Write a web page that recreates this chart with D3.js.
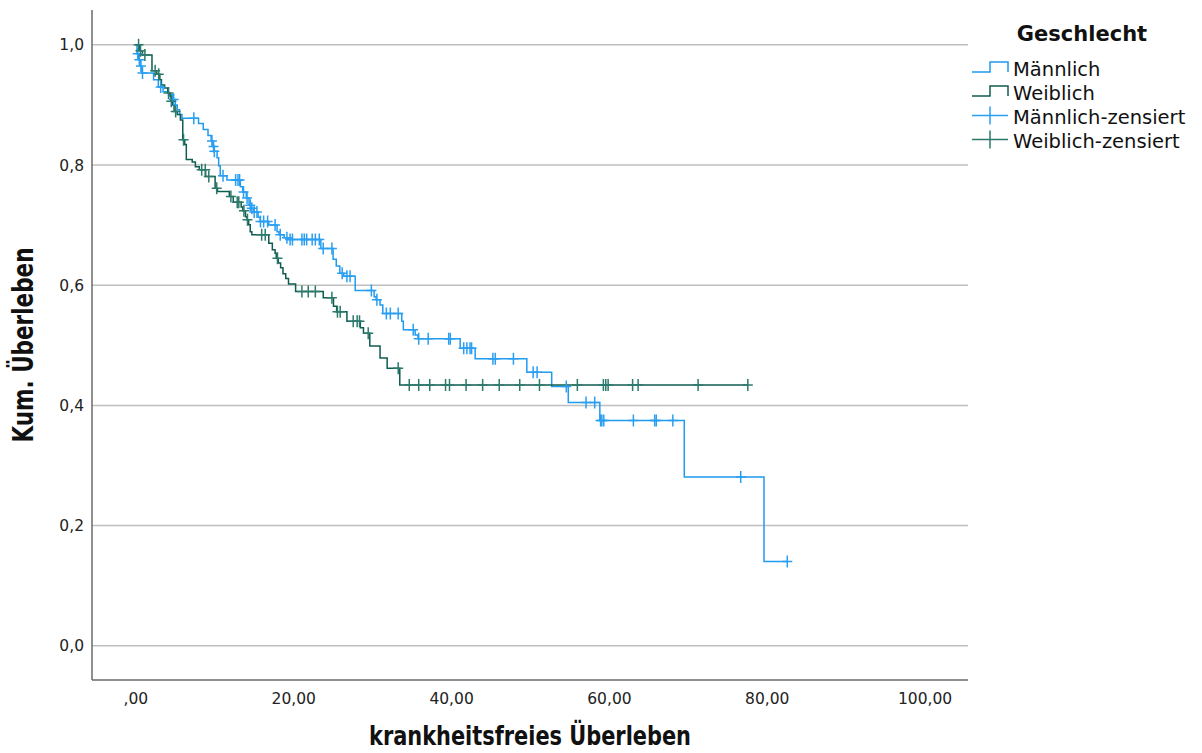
<!DOCTYPE html>
<html>
<head>
<meta charset="utf-8">
<script src="https://cdn.jsdelivr.net/npm/d3@7/dist/d3.min.js"></script>
<style>
  html, body { margin: 0; padding: 0; background: #fff; }
  svg { display: block; }
</style>
</head>
<body>
<svg id="chart" width="1202" height="753"></svg>
<script>
// Kaplan-Meier: krankheitsfreies Überleben nach Geschlecht
const groups = ["Männlich", "Weiblich"];

// Männlich: Ereigniszeitpunkte und kumulierte Überlebensrate nach jedem Ereignis
const maleEventTimes = [0.2, 0.4, 0.6, 0.8, 2.3, 2.9, 3.5, 4.2, 4.7, 5.06, 5.3, 5.6, 5.9, 8.0, 8.6, 9.2, 9.6, 9.8, 9.95,
  10.35, 10.55, 10.75, 11.6, 13.3, 13.6, 14.05, 14.4, 14.65, 14.95, 15.55, 15.8, 16.9, 17.95, 18.2, 18.85, 19.35,
  23.5, 25.05, 25.45, 25.9, 26.4, 27.85, 30.25, 30.5, 31.0, 31.35, 33.75, 33.95, 35.45, 35.8, 41.15, 43.05,
  49.6, 52.75, 54.85, 58.85, 69.55, 79.65];
const maleSurvival = [0.985, 0.975, 0.965, 0.953, 0.942, 0.930, 0.922, 0.917, 0.909, 0.900, 0.892, 0.884, 0.878, 0.869, 0.859, 0.849, 0.840, 0.831, 0.823,
  0.812, 0.799, 0.782, 0.775, 0.764, 0.755, 0.745, 0.733, 0.728, 0.722, 0.713, 0.706, 0.700, 0.689, 0.684, 0.679, 0.676,
  0.661, 0.643, 0.632, 0.620, 0.615, 0.591, 0.581, 0.576, 0.567, 0.553, 0.540, 0.526, 0.517, 0.511, 0.495, 0.4775,
  0.455, 0.4315, 0.405, 0.375, 0.281, 0.140];
const maleCensored = [0.3, 0.5, 0.7, 0.9, 3.2, 4.85, 7.4, 9.7, 9.9, 10.0, 11.1, 12.7, 13.0, 13.2, 13.7, 14.15, 14.55, 14.75,
  15.05, 15.4, 15.85, 16.25, 16.75, 17.7, 18.35, 19.2, 19.6, 19.9, 21.1, 21.4, 21.7, 22.4, 22.8, 23.3, 23.8, 24.9,
  26.2, 26.8, 27.2, 29.9, 30.6, 31.8, 32.3, 33.3, 35.2, 35.9, 37.1, 39.7, 39.9, 41.6, 42.0, 42.4, 42.6, 45.3, 45.6,
  47.9, 50.4, 50.9, 54.6, 57.1, 58.2, 58.95, 59.1, 59.35, 63.1, 65.8, 66.0, 68.1, 76.7, 82.6];

// Weiblich
const femaleEventTimes = [0.5, 0.9, 2.1, 2.7, 3.1, 3.3, 3.7, 4.1, 4.4, 4.5, 4.7, 4.9, 5.3, 5.7, 6.0, 6.25, 6.45, 7.2, 7.6,
  8.1, 8.9, 10.1, 10.4, 11.9, 12.4, 13.4, 13.6, 13.95, 14.15, 14.35, 14.55, 14.75, 16.9, 17.35, 17.7, 17.85, 18.1,
  18.4, 18.7, 19.05, 19.4, 20.3, 23.8, 25.1, 25.5, 26.8, 28.5, 28.9, 29.7, 31.0, 31.9, 33.5];
const femaleSurvival = [0.990, 0.983, 0.957, 0.951, 0.942, 0.933, 0.928, 0.920, 0.914, 0.906, 0.900, 0.889, 0.884, 0.875, 0.842, 0.834, 0.809, 0.805, 0.797,
  0.792, 0.781, 0.7615, 0.756, 0.7475, 0.738, 0.730, 0.724, 0.714, 0.709, 0.7005, 0.689, 0.684, 0.670, 0.659, 0.653, 0.645, 0.637,
  0.629, 0.619, 0.611, 0.602, 0.5895, 0.579, 0.565, 0.556, 0.540, 0.529, 0.520, 0.499, 0.479, 0.462, 0.434];
const femaleCensored = [0.4, 0.65, 1.2, 2.5, 2.95, 4.2, 4.55, 5.1, 6.1, 8.4, 8.85, 9.3, 10.3, 12.1, 12.9, 13.1, 13.75, 14.2,
  16.0, 16.45, 18.0, 21.1, 21.9, 22.8, 24.9, 25.6, 25.95, 27.6, 28.1, 28.4, 29.5, 33.3, 34.7, 35.9, 37.3, 39.3, 39.8,
  41.9, 44.0, 46.1, 48.7, 51.2, 56.0, 59.3, 59.6, 59.9, 63.0, 63.7, 71.3, 77.6];

const xTicks = [0, 20, 40, 60, 80, 100];
const xTickLabels = [",00", "20,00", "40,00", "60,00", "80,00", "100,00"];
const yTicks = [0, 0.2, 0.4, 0.6, 0.8, 1.0];
const yTickLabels = ["0,0", "0,2", "0,4", "0,6", "0,8", "1,0"];

const legendLabels = ["Männlich", "Weiblich", "Männlich-zensiert", "Weiblich-zensiert"];

const colors = {
  maleLine: "#1f9bf0",
  maleCensor: "#2a9ff2",
  femaleLine: "#0f5c50",
  femaleCensor: "#2c7a6c"
};

const svg = d3.select("#chart");
const plot = { left: 92, right: 968, top: 10, bottom: 680 };

const x = d3.scaleLinear().domain([-5.5, 105.5]).range([plot.left, plot.right]);
const y = d3.scaleLinear().domain([-0.057, 1.058]).range([plot.bottom, plot.top]);

const tickFont = "'DejaVu Sans', Verdana, sans-serif";
const titleFont = "'Liberation Sans Narrow', 'DejaVu Sans Condensed', 'Arial Narrow', sans-serif";

// Gitternetzlinien
svg.append("g")
  .selectAll("line")
  .data(yTicks)
  .join("line")
  .attr("x1", plot.left).attr("x2", plot.right)
  .attr("y1", d => y(d)).attr("y2", d => y(d))
  .attr("stroke", "#bfbfbf")
  .attr("stroke-width", 1.5);

// Achsen ohne Teilstriche
const yAxis = d3.axisLeft(y).tickValues(yTicks).tickSize(0).tickPadding(8)
  .tickFormat((d, i) => yTickLabels[i]);
const xAxis = d3.axisBottom(x).tickValues(xTicks).tickSize(0).tickPadding(13)
  .tickFormat((d, i) => xTickLabels[i]);

const gy = svg.append("g").attr("transform", `translate(${plot.left},0)`).call(yAxis);
const gx = svg.append("g").attr("transform", `translate(0,${plot.bottom})`).call(xAxis);

[gx, gy].forEach(g => {
  g.select(".domain").remove();
  g.selectAll("text")
    .attr("font-family", tickFont)
    .attr("font-size", 15.5)
    .attr("fill", "#222");
});

svg.append("line")
  .attr("x1", plot.left).attr("x2", plot.left)
  .attr("y1", plot.top).attr("y2", plot.bottom)
  .attr("stroke", "#6a6a6a").attr("stroke-width", 1.5);
svg.append("line")
  .attr("x1", plot.left).attr("x2", plot.right)
  .attr("y1", plot.bottom).attr("y2", plot.bottom)
  .attr("stroke", "#6a6a6a").attr("stroke-width", 1.5);

// Achsentitel
svg.append("text")
  .attr("x", (plot.left + plot.right) / 2)
  .attr("y", 745)
  .attr("text-anchor", "middle")
  .attr("font-family", titleFont)
  .attr("font-weight", "bold")
  .attr("font-size", 27)
  .attr("textLength", 322)
  .attr("lengthAdjust", "spacingAndGlyphs")
  .attr("fill", "#111")
  .text("krankheitsfreies Überleben");

svg.append("text")
  .attr("transform", `translate(33,${(plot.top + plot.bottom) / 2}) rotate(-90)`)
  .attr("text-anchor", "middle")
  .attr("font-family", titleFont)
  .attr("font-weight", "bold")
  .attr("font-size", 28)
  .attr("textLength", 195)
  .attr("lengthAdjust", "spacingAndGlyphs")
  .attr("fill", "#111")
  .text("Kum. Überleben");

// Kurven
function stepPoints(times, surv, censored) {
  const pts = [[0, 1]];
  times.forEach((t, i) => pts.push([t, surv[i]]));
  const end = Math.max(times[times.length - 1], censored[censored.length - 1]);
  pts.push([end, surv[surv.length - 1]]);
  return pts;
}
function survivalAt(times, surv, t) {
  let s = 1;
  for (let i = 0; i < times.length; i++) { if (times[i] <= t) s = surv[i]; else break; }
  return s;
}

const line = d3.line().x(d => x(d[0])).y(d => y(d[1])).curve(d3.curveStepAfter);

const series = [
  { times: maleEventTimes, surv: maleSurvival, cens: maleCensored, line: colors.maleLine, mark: colors.maleCensor },
  { times: femaleEventTimes, surv: femaleSurvival, cens: femaleCensored, line: colors.femaleLine, mark: colors.femaleCensor }
];

const crossPath = (cx, cy) => `M${cx - 5},${cy}H${cx + 5}M${cx},${cy - 6}V${cy + 6}`;

series.forEach(s => {
  svg.append("path")
    .attr("d", line(stepPoints(s.times, s.surv, s.cens)))
    .attr("fill", "none")
    .attr("stroke", s.line)
    .attr("stroke-width", 1.5);
});
series.forEach(s => {
  svg.append("g")
    .selectAll("path")
    .data(s.cens)
    .join("path")
    .attr("d", t => crossPath(x(t), y(survivalAt(s.times, s.surv, t))))
    .attr("fill", "none")
    .attr("stroke", s.mark)
    .attr("stroke-width", 1.5);
});

// Legende
const legend = svg.append("g");
legend.append("text")
  .attr("x", 1082).attr("y", 41)
  .attr("text-anchor", "middle")
  .attr("font-family", tickFont)
  .attr("font-weight", "bold")
  .attr("font-size", 21)
  .attr("fill", "#111")
  .text("Geschlecht");

const rowY = [76, 100, 124, 148];
const symbolColors = [colors.maleLine, colors.femaleLine, colors.maleCensor, colors.femaleCensor];

legendLabels.forEach((label, i) => {
  const by = rowY[i];
  const mid = by - 4.5;
  if (i < 2) {
    legend.append("path")
      .attr("d", `M972,${mid + 0.5}H990V${mid - 9.5}H1008V${mid + 0.5}`)
      .attr("fill", "none").attr("stroke", symbolColors[i]).attr("stroke-width", 1.5);
  } else {
    legend.append("path")
      .attr("d", `M972,${mid - 4}H1008M990,${mid - 13}V${mid + 5}`)
      .attr("fill", "none").attr("stroke", symbolColors[i]).attr("stroke-width", 1.5);
  }
  legend.append("text")
    .attr("x", 1013).attr("y", by)
    .attr("font-family", tickFont)
    .attr("font-size", 19.5)
    .attr("fill", "#111")
    .text(label);
});
</script>
</body>
</html>
